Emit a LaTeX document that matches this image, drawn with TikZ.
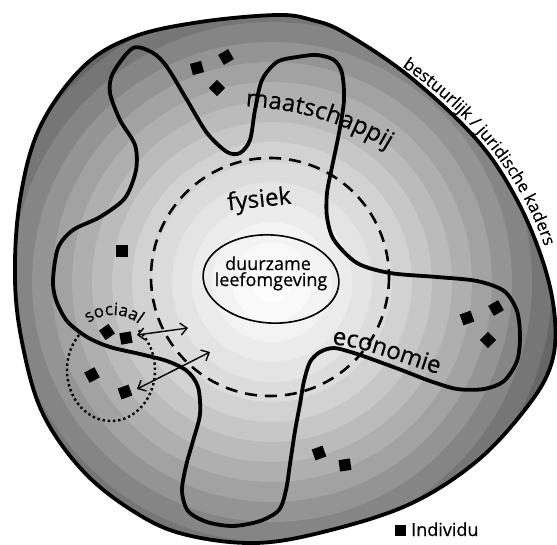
\documentclass[tikz,border=0pt]{standalone}
\usepackage{fontspec}
\setmainfont{Open Sans}[FakeBold=0.5]
\usetikzlibrary{decorations.text,arrows.meta}
\begin{document}
\begin{tikzpicture}[x=1pt,y=-1pt,
  sq/.style={fill=black, minimum size=11.5pt, inner sep=0pt, outer sep=0pt},
  bigline/.style={line width=3.8pt, line join=round},
  arr/.style={{Straight Barb[length=6.5pt,width=12pt]}-{Straight Barb[length=6.5pt,width=12pt]}, line width=1.4pt},
  lbl/.style={font=\fontsize{24}{24}\selectfont, inner sep=0pt},
]
\useasboundingbox (0,0) rectangle (557,544);
\fill[white] (0,0) rectangle (557,544);

% gradient rings clipped to outer blob
\begin{scope}
\clip plot[smooth cycle, tension=0.6] coordinates {(277,15) (312,20) (345,33) (410,77) (477,140) (517,200) (544,265) (555,320) (551,365) (527,407) (477,461) (410,504) (327,531) (255,543) (183,534) (133,511) (83,471) (43,414) (23,347) (15,280) (20,200) (40,127) (83,67) (133,37) (200,22)};
\foreach \r in {320,300,...,20}{
  \pgfmathsetmacro{\dk}{min(60,57*(\r/290)^1.6)}
  \fill[black!\dk] (272,282) circle[radius=\r];
}
\end{scope}

% outer boundary
\draw[bigline] plot[smooth cycle, tension=0.6] coordinates {(277,15) (312,20) (345,33) (410,77) (477,140) (517,200) (544,265) (555,320) (551,365) (527,407) (477,461) (410,504) (327,531) (255,543) (183,534) (133,511) (83,471) (43,414) (23,347) (15,280) (20,200) (40,127) (83,67) (133,37) (200,22)};

% dashed circle (fysiek)
\draw[line width=2.6pt, dash pattern=on 12pt off 8pt] (270,277) circle[radius=119];

% wavy curve (maatschappij)
\draw[bigline] plot[smooth cycle, tension=0.5] coordinates {(133,48) (113,73) (110,93) (120,120) (135,145) (136,170) (125,198) (100,217) (73,230) (58,248) (53,280) (56,300) (67,321) (87,337) (110,347) (140,354) (167,361) (187,371) (198,387) (200,414) (193,441) (186,466) (182,491) (188,511) (207,522) (233,526) (260,521) (279,510) (286,490) (290,464) (295,431) (300,404) (304,381) (310,362) (320,352) (334,348) (354,353) (377,361) (404,371) (430,381) (457,389) (484,389) (504,381) (517,361) (520,337) (517,311) (504,291) (477,281) (437,277) (390,273) (357,263) (334,240) (327,217) (327,193) (332,167) (339,133) (344,100) (342,73) (334,60) (317,55) (297,57) (277,62) (262,80) (255,110) (250,140) (240,153) (227,152) (207,133) (187,100) (167,67) (153,53)};

% centre ellipse
\draw[line width=1.6pt, rotate around={-4:(271,279)}] (271,279) ellipse[x radius=68, y radius=44];
\node[inner sep=0pt, anchor=base, font=\fontsize{18}{18}\selectfont] (duur) at (268,270) {duurzame};
\node[inner sep=0pt, anchor=base, font=\fontsize{18}{18}\selectfont] (leef) at (271,286) {leefomgeving};

% fysiek
\node[lbl, anchor=base, rotate=6] (fys) at (260,207) {fysiek};

% dotted ellipse (sociaal)
\draw[line width=2.4pt, dash pattern=on 2.4pt off 2.8pt] (111,370) ++(-51:44 and 51) arc[start angle=-51, end angle=227, x radius=44, y radius=51];
\path[decorate, decoration={text along path, text={|\fontsize{17}{17}\selectfont|sociaal}, text align=center}] (113,370) ++(-130:47 and 55) arc[start angle=-130, end angle=-48, x radius=47, y radius=55];

% individuals
\node[sq, rotate=15] (q1) at (197,68) {};
\node[sq, rotate=30] (q2) at (226,57) {};
\node[sq, rotate=45] (q3) at (217,88) {};
\node[sq] (q4) at (122,251) {};
\node[sq, rotate=35] (q5) at (107,332) {};
\node[sq, rotate=10] (q6) at (126,338) {};
\node[sq, rotate=28] (q7) at (92,375) {};
\node[sq, rotate=20] (q8) at (125,392) {};
\node[sq, rotate=20] (q9) at (467,318) {};
\node[sq, rotate=30] (q10) at (496,308) {};
\node[sq, rotate=45] (q11) at (488,340) {};
\node[sq, rotate=20] (q12) at (319,453) {};
\node[sq, rotate=8] (q13) at (345,465) {};

% arrows
\coordinate (a1) at (137,335);
\coordinate (a2) at (188,328);
\coordinate (b1) at (137,389);
\coordinate (b2) at (210,352);
\draw[arr] (a1) -- (a2);
\draw[arr] (b1) -- (b2);

% curved labels
\path[decorate, decoration={text along path, text={|\fontsize{24}{24}\selectfont|maatschappij}, text align=center}] (238,106) .. controls (300,108) and (350,125) .. (394,153);
\path[decorate, decoration={text along path, text={|\fontsize{24}{24}\selectfont|economie}, text align=center}] (328,344) .. controls (365,346) and (405,365) .. (442,375);
\path[decorate, decoration={text along path, text={|\fontsize{17}{17}\selectfont|bestuurlijk / juridische kaders}, text align=center}] (392,60) .. controls (460,103) and (525,175) .. (548,258);

% legend
\node[sq, minimum size=11pt] (qL) at (400,530) {};
\node[inner sep=0pt, anchor=base west, font=\fontsize{18}{18}\selectfont] (ind) at (411,536) {Individu};
\end{tikzpicture}
\end{document}
